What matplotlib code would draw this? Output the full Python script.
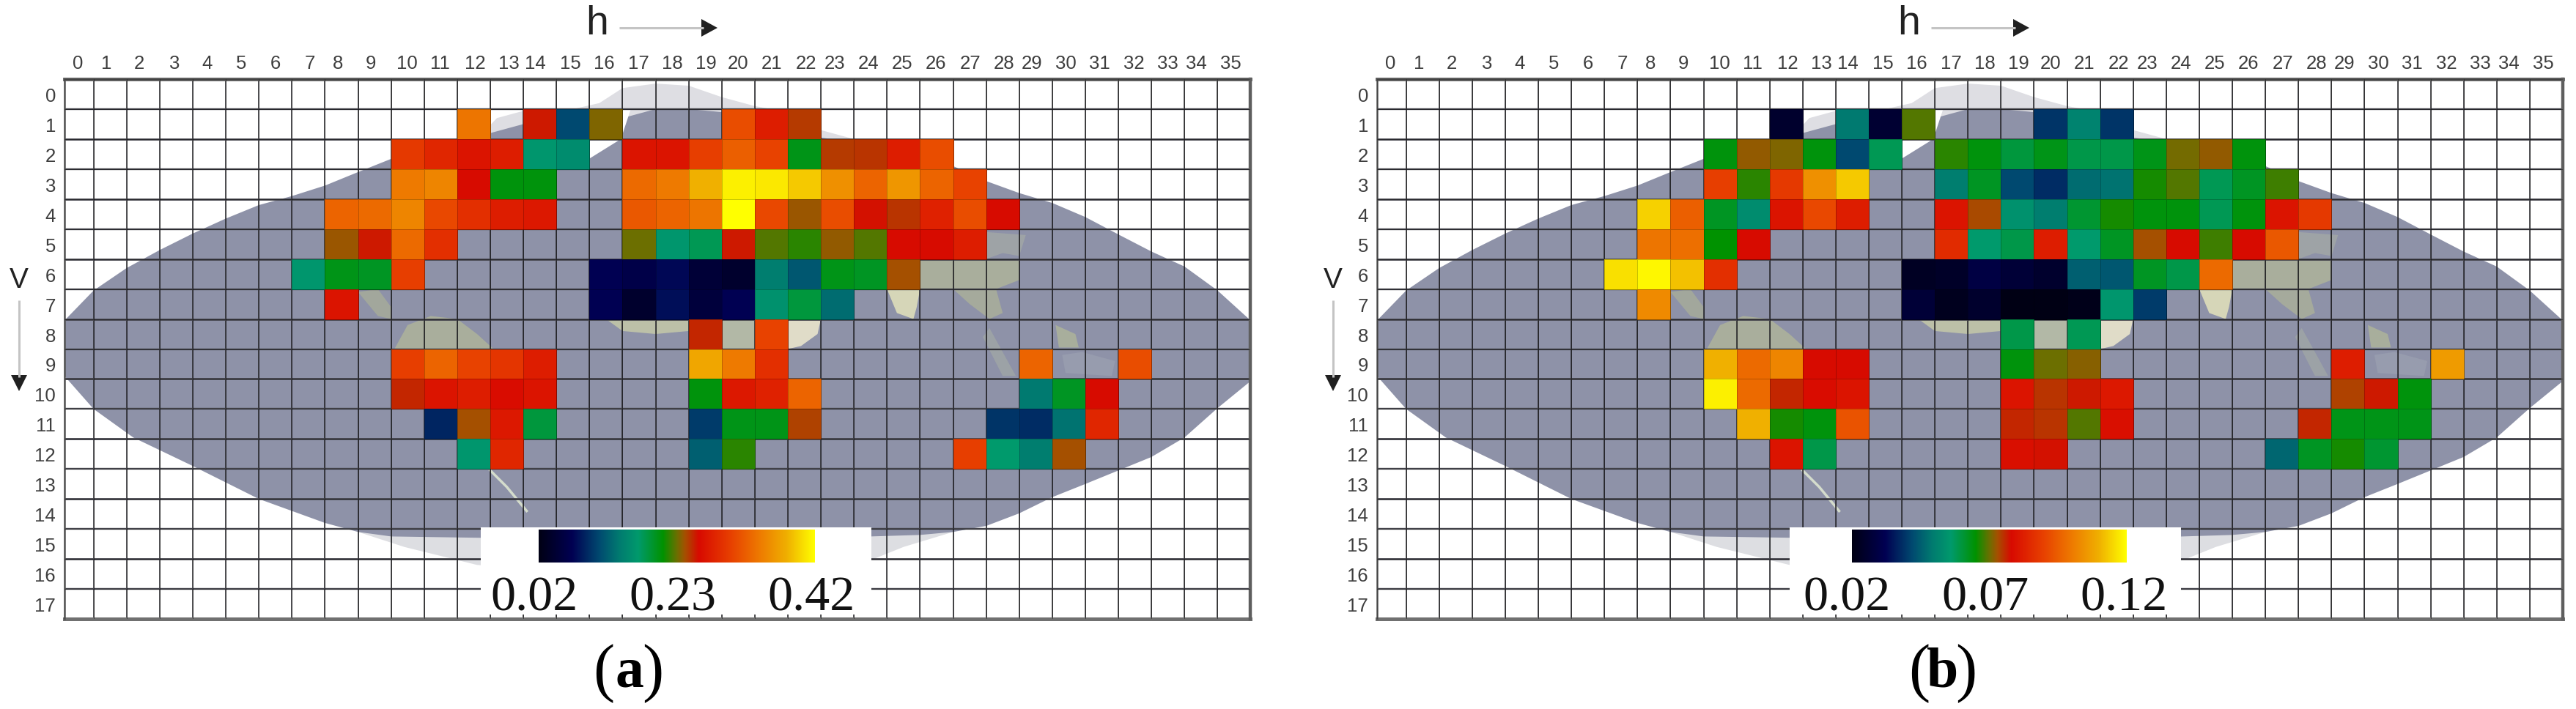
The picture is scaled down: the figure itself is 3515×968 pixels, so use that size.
import numpy as np
import matplotlib
matplotlib.use("Agg")
import matplotlib.pyplot as plt
from matplotlib.colors import LinearSegmentedColormap, Normalize
from matplotlib.patches import Polygon, Rectangle

# ---------- data: {row: [(first column, values of a run of cells), ...]} ----------
nan = float("nan")
h_labels = [str(i) for i in range(36)]
v_labels = [str(i) for i in range(18)]
range_a = [0.02, 0.42]
range_b = [0.02, 0.12]
ticks_a = ["0.02", "0.23", "0.42"]
ticks_b = ["0.02", "0.07", "0.12"]

values_a = {
    1: [(12, [.336]), (14, [.248, .108, .224]), (20, [.308, .268, .238])],
    2: [(10, [.292, .276, .26, .268, .16, .152]), (17, [.26, .26, .296, .32, .30, .192, .238, .24, .268, .308])],
    3: [(10, [.34, .348, .252, .196, .196]), (17, [.328, .34, .38, .412, .408, .392, .356, .324, .36, .324, .30])],
    4: [(8, [.324, .328, .348, .304, .284, .268, .264]), (17, [.316, .324, .336, .42, .304, .23, .308, .25, .24, .272, .308, .252])],
    5: [(8, [.23, .248, .328, .284]), (17, [.22, .16, .172, .248, .216, .208, .228, .216, .252, .252, .268])],
    6: [(7, [.16, .192, .188, .296]), (16, [.068, .06, .072, .048, .04, .14, .116, .192, .188, .232])],
    7: [(8, [.26]), (16, [.068, .04, .076, .052, .068, .156, .18, .128])],
    8: [(19, [.244]), (21, [.30])],
    9: [(10, [.296, .324, .30, .288, .268]), (19, [.372, .34, .284]), (29, [.324]), (32, [.308])],
    10: [(10, [.244, .26, .268, .254, .26]), (19, [.196, .264, .272, .324]), (29, [.136, .188, .252])],
    11: [(11, [.088, .232, .264, .18]), (19, [.10, .192, .192, .236]), (28, [.096, .092, .132, .276])],
    12: [(12, [.16, .276]), (19, [.12, .208]), (27, [.296, .164, .14, .232])],
}
values_b = {
    1: [(12, [.025]), (14, [.049, .026, .069]), (20, [.039, .051, .039])],
    2: [(10, [.064, .072, .071, .064, .042, .058]), (17, [.067, .064, .060, .063, .059, .059, .063, .0705, .072, .064])],
    3: [(10, [.089, .067, .088, .104, .113]), (17, [.05, .062, .042, .038, .047, .048, .066, .069, .058, .062, .068])],
    4: [(8, [.114, .095, .062, .053, .08, .091, .082]), (17, [.08, .0735, .054, .05, .061, .066, .064, .064, .058, .064, .08, .088])],
    5: [(8, [.099, .098, .065, .078]), (17, [.085, .056, .059, .082, .056, .062, .073, .078, .068, .078, .094])],
    6: [(7, [.116, .119, .112, .086]), (16, [.023, .024, .029, .027, .025, .045, .044, .062, .059, .097])],
    7: [(8, [.103]), (16, [.027, .022, .025, .020, .020, .021, .055, .04])],
    8: [(19, [.059]), (21, [.058])],
    9: [(10, [.11, .097, .102, .078, .078]), (19, [.064, .07, .0715]), (29, [.082]), (32, [.106])],
    10: [(10, [.118, .097, .076, .0785, .08]), (19, [.08, .075, .077, .081]), (29, [.074, .077, .064])],
    11: [(11, [.11, .066, .064, .093]), (19, [.076, .075, .069, .079]), (28, [.076, .063, .063, .063])],
    12: [(12, [.08, .059]), (19, [.079, .0775]), (27, [.046, .062, .066, .061])],
}

# ---------- colormap ----------
cmap_stops = [(0.00, "#000014"), (0.12, "#000052"), (0.22, "#004a70"), (0.29, "#007a70"),
              (0.36, "#009a6c"), (0.45, "#009200"), (0.50, "#6a7000"), (0.53, "#a55000"),
              (0.58, "#d80a00"), (0.70, "#e84200"), (0.80, "#ee7a00"), (0.90, "#f0b000"),
              (1.00, "#ffff00")]
cmap = LinearSegmentedColormap.from_list("rad", cmap_stops, N=512)

# ---------- layout (pixels of the full figure) ----------
W, H = 3516, 968
GRID_TOP, GRID_BOTTOM = 108, 845
panel_left = {"a": 88, "b": 1879}
panel_right = {"a": 1706.5, "b": 3497}
label_offset = {"a": 0, "b": 1791}
h_label_x = [106, 145, 190, 238, 283, 329, 376, 423, 461, 506, 555, 600, 648, 694, 730, 778, 824, 871,
             917, 963, 1007, 1053, 1100, 1139, 1185, 1231, 1277, 1324, 1370, 1408, 1454, 1500, 1547,
             1593, 1632, 1679]
box = {"a": (656, 1189), "b": (2442, 2976)}
bar = {"a": (735, 1112), "b": (2527, 2902)}
bar_label_x = {"a": (729, 918, 1107), "b": (2520, 2709, 2898)}
letter_x = {"a": (824, 859, 891), "b": (2619, 2651, 2683)}
h_x = {"a": 815, "b": 2605}

# map outline in grid units (column edge, row edge)
map_top = [(0.12, 8.05), (1, 7.05), (2, 6.3), (3, 5.7), (4, 5.15), (5, 4.65), (6, 4.2), (7, 3.9), (8, 3.55),
           (9, 3.1), (10, 2.66), (11, 2.4), (12, 2.1), (13, 1.8), (14, 1.5), (15, 1.9), (16, 1.6), (17, 1.3),
           (18, 1.0), (19, 1.0), (20, 1.1), (21, 1.3), (22, 1.6), (23, 1.95), (24, 2.1), (25, 2.2), (26, 2.5),
           (27, 2.9), (28, 3.4), (29, 3.8), (30, 4.13), (31, 4.6), (32, 5.18), (33, 5.75), (34, 6.25),
           (35, 7.05), (36, 8.05)]
map_bottom = [(36, 10.07), (35, 10.97), (34, 11.95), (33, 12.6), (32, 13.05), (31, 13.5), (30, 13.94), (29, 14.48),
              (28, 14.9), (27, 15.1), (26, 15.2), (23, 15.3), (13, 15.3), (10, 15.25), (9, 15.1), (8, 14.8), (6, 14.0),
              (4, 12.9), (2.2, 11.95), (1, 11.0), (0.12, 9.9)]
pale_top = [(12.6, 2), (13.2, 1.3), (14.2, 1.0), (15.5, 1.0), (16.3, .8), (17, .3), (18, .15), (19, .22), (20, .6),
            (21, .9), (22, 1.1), (23, 1.7), (24, 2), (12.6, 2)]
pale_bottom = [(9, 15.1), (10.4, 15.6), (12.6, 16.2), (15, 16.4), (23, 16.4), (24.6, 16.0), (25.5, 15.6),
               (27, 15.1)]
white_notch = [(15, 1), (17.25, 1), (16.95, 2), (16.0, 2.65), (16.0, 1.5)]
land_parts = [
    ([(10.1, 9), (10.5, 8.2), (11.2, 7.9), (12, 8.0), (12.6, 8.5), (13.1, 9)], "#a9ae9c"),
    ([(9, 7.1), (9.6, 7), (10, 7.6), (10, 8), (9.6, 7.9)], "#a2a79c"),
    ([(16.5, 8), (19, 8), (19, 8.4), (18, 8.5), (17, 8.4)], "#bcc0a8"),
    ([(20, 8), (21, 8), (21, 9), (20, 9)], "#b2b8a6"),
    ([(22, 8), (23, 8), (22.9, 8.5), (22.4, 8.9), (22, 9)], "#e0dcc8"),
    ([(25, 7), (26, 7), (25.9, 7.6), (25.8, 8), (25.3, 7.8)], "#d6d6b8"),
    ([(26, 6), (29, 6), (29, 6.7), (28.3, 7), (26, 7)], "#a9ae9c"),
    ([(27, 7), (28.3, 7), (28.5, 7.8), (28.1, 8), (27.5, 7.5)], "#a5aa9c"),
    ([(28, 5.1), (29.2, 5.2), (29, 5.9), (28.5, 5.8), (28, 6)], "#9ea3a6"),
    ([(30.1, 8.2), (30.7, 8.5), (30.8, 8.95), (30.2, 8.95)], "#a8ae9c"),
    ([(28.1, 8.3), (28.9, 9.9), (28.5, 9.9), (27.9, 8.6)], "#9ca2a6"),
    ([(30.3, 9.2), (30.9, 9.1), (31.9, 9.4), (31.8, 9.9), (30.4, 9.8)], "#979cae"),
]
coast_line = ([13.0, 13.5, 14.1], [13.05, 13.6, 14.4])

plt.rcParams["font.family"] = ["Liberation Sans", "DejaVu Sans"]
fig = plt.figure(figsize=(W / 100, H / 100), dpi=100, facecolor="white")


def rect(x0, x1, y0, y1):
    return [x0 / W, 1 - y1 / H, (x1 - x0) / W, (y1 - y0) / H]


def draw_panel(key, values, vrange, ticks):
    ax = fig.add_axes(rect(panel_left[key], panel_right[key], GRID_TOP, GRID_BOTTOM), zorder=1)
    ax.set_xlim(0.12, 36)
    ax.set_ylim(18, 0)
    ax.axis("off")
    # background map
    ax.add_patch(Polygon(pale_top, closed=True, fc="#dedee3", ec="none", zorder=1))
    ax.add_patch(Polygon(pale_bottom, closed=True, fc="#dddee2", ec="none", zorder=1))
    ax.add_patch(Polygon(map_top + map_bottom, closed=True, fc="#8e92a8", ec="none", zorder=2))
    ax.add_patch(Polygon(white_notch, closed=True, fc="white", ec="none", zorder=2.1))
    for pts, col in land_parts:
        ax.add_patch(Polygon(pts, closed=True, fc=col, ec="none", zorder=2.2))
    ax.plot(*coast_line, color="#d4dccc", lw=2.5, zorder=2.2)
    # grid
    xedges = np.r_[0.12, np.arange(1, 37)]
    yedges = np.arange(19)
    for x in xedges[1:-1]:
        ax.plot([x, x], [0, 18], color="#2c2c30", lw=1.15, zorder=3, solid_capstyle="butt")
    for y in yedges[1:-1]:
        ax.plot([0.12, 36], [y, y], color="#45454c", lw=2.0 if y % 2 == 0 else 1.7, zorder=3,
                solid_capstyle="butt")
    ax.plot([0.12, 36], [0, 0], color="#555555", lw=3.4, zorder=3, clip_on=False)
    ax.plot([0.12, 36], [18, 18], color="#707070", lw=3.6, zorder=3, clip_on=False)
    ax.plot([36, 36], [0, 18], color="#5e5e5e", lw=3.2, zorder=3, clip_on=False)
    ax.plot([0.12, 0.12], [0, 18], color="#555555", lw=1.8, zorder=3, clip_on=False)
    # cells
    grid = np.full((18, 36), nan)
    for row, runs in values.items():
        for first, vals in runs:
            grid[row, first:first + len(vals)] = vals
    norm = Normalize(*vrange)
    ax.pcolormesh(xedges, yedges, np.ma.masked_invalid(grid), cmap=cmap, norm=norm, zorder=4,
                  edgecolors=(0, 0, 0, 0.22), linewidth=0.7)


def draw_overlay(ov, key, vrange, ticks):
    off = label_offset[key]
    for lab, x in zip(h_labels, h_label_x):
        ov.text(x + off, 87, lab, ha="center", va="center", fontsize=18.5, color="#3e3e3e")
    for i, lab in enumerate(v_labels):
        y = GRID_TOP + (GRID_BOTTOM - GRID_TOP) * (i + 0.5) / 18 + 3.5
        ov.text(76 + off, y, lab, ha="right", va="center", fontsize=18.5, color="#3e3e3e")
    # h ->
    ov.text(h_x[key], 33, "h", ha="center", va="center", fontsize=40, color="#222222")
    x0 = h_x[key] + 30
    ov.plot([x0, x0 + 115], [38, 38], color="#c4c4c4", lw=2.2, solid_capstyle="butt")
    ov.add_patch(Polygon([(x0 + 112, 26), (x0 + 134, 38), (x0 + 112, 50)], closed=True, fc="#202020", ec="none"))
    # V |
    xv = 26 + off + 2 * (key == "b")
    ov.text(xv, 383, "V", ha="center", va="center", fontsize=28, color="#222222")
    ov.plot([xv, xv], [410, 515], color="#c4c4c4", lw=2.2, solid_capstyle="butt")
    ov.add_patch(Polygon([(xv - 11, 512), (xv, 534), (xv + 11, 512)], closed=True, fc="#202020", ec="none"))
    # colour-bar plate
    bx0, bx1 = box[key]
    ov.add_patch(Rectangle((bx0, 720), bx1 - bx0, 119, fc="white", ec="none", zorder=2))
    cax = fig.add_axes(rect(bar[key][0], bar[key][1], 723, 768), zorder=6)
    cax.imshow(np.linspace(vrange[0], vrange[1], 512)[None, :], aspect="auto", cmap=cmap,
               norm=Normalize(*vrange), interpolation="bilinear")
    cax.axis("off")
    for lab, x in zip(ticks, bar_label_x[key]):
        ov.text(x, 833, lab, ha="center", va="baseline", fontsize=49, color="#111111",
                family="Liberation Serif", zorder=3)
    # panel letter
    lx = letter_x[key]
    ov.text(lx[0], 941, "(", ha="center", va="baseline", fontsize=63, family="Liberation Serif", color="black")
    ov.text(lx[1], 937, key, ha="center", va="baseline", fontsize=56, family="Liberation Serif",
            weight="bold", color="black")
    ov.text(lx[2], 941, ")", ha="center", va="baseline", fontsize=63, family="Liberation Serif", color="black")


draw_panel("a", values_a, range_a, ticks_a)
draw_panel("b", values_b, range_b, ticks_b)

overlay = fig.add_axes([0, 0, 1, 1], zorder=5)
overlay.set_xlim(0, W)
overlay.set_ylim(H, 0)
overlay.axis("off")
draw_overlay(overlay, "a", range_a, ticks_a)
draw_overlay(overlay, "b", range_b, ticks_b)

fig.savefig("out.png", dpi=100, facecolor="white")
